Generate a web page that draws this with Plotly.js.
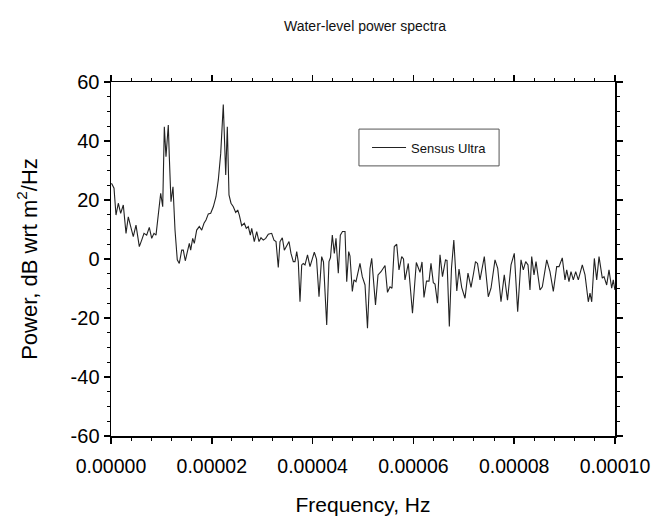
<!DOCTYPE html>
<html>
<head>
<meta charset="utf-8">
<script src="https://cdn.plot.ly/plotly-3.0.1.min.js"></script>
<style>html,body{margin:0;padding:0;background:#fff;}#chart{width:657px;height:521px;}</style>
</head>
<body>
<div id="chart"></div>
<script>
// Frequency in micro-Hz (converted to Hz below)
const freqMicroHz = [
0.10,0.60,0.99,1.45,1.92,2.44,2.98,3.43,3.91,4.42,4.96,5.62,6.09,6.55,7.08,7.60,8.08,8.53,8.93,9.38,
9.86,10.26,10.58,10.91,11.37,11.57,11.90,12.30,12.70,13.15,13.55,14.03,14.35,14.74,15.14,15.54,15.81,16.21,16.53,17.00,
17.52,18.00,18.45,18.85,19.31,19.78,20.30,20.83,21.29,21.77,22.28,22.76,23.08,23.41,23.81,24.27,24.74,25.14,25.46,25.93,
26.45,26.84,27.24,27.64,27.92,28.43,28.91,29.37,29.76,30.22,30.69,31.21,31.88,32.34,32.74,33.19,33.53,33.99,34.39,34.86,
35.32,35.71,36.17,36.51,36.85,37.16,37.50,37.84,38.15,38.49,38.99,39.48,40.34,40.78,41.27,41.80,42.16,42.80,43.25,43.55,
43.91,44.31,44.64,45.10,45.50,45.93,46.43,46.77,47.16,47.42,47.88,48.21,48.61,49.40,49.86,50.40,50.89,51.39,51.73,52.48,
52.98,53.57,54.37,54.86,55.36,55.75,56.21,56.69,57.14,57.68,58.04,58.33,58.99,59.82,60.58,61.31,61.71,62.10,62.60,63.10,
63.49,63.95,64.29,64.78,65.28,65.77,66.37,66.67,67.13,67.56,68.02,68.61,69.05,69.58,70.24,70.83,71.43,71.92,72.32,72.72,
73.21,74.07,74.86,75.40,76.19,76.73,77.38,78.03,78.67,79.37,80.02,80.69,81.35,81.81,82.28,82.74,83.13,83.47,83.93,84.33,
85.12,85.58,86.45,87.10,87.76,88.43,88.89,89.54,90.08,90.42,90.87,91.27,91.73,92.20,92.72,93.51,94.05,94.70,95.04,95.38,
95.90,96.37,96.83,97.48,97.82,98.35,98.81,99.34,99.66,99.98
];
const powerDb = [
25.7,24,14.9,18.9,15.5,18.3,8.7,14.3,11,7.6,11.5,4.2,6.4,8.7,8.1,10.7,7,8.7,8.1,14.3,
22.3,17.7,44.8,34.7,45.4,34.7,19.4,24.5,9.8,-0.3,-1.5,3,3,-0.6,2.5,5.3,3,7,5.3,9.8,
11,9.8,12.1,13.2,15.3,15.5,17.7,21.1,26.8,35.8,52.4,28.5,44.8,21.7,18.9,17.7,15.8,16.6,14.9,11.3,
12.1,10.4,11,8.1,10.4,5.9,9.3,5.9,7.2,6.4,7,8.4,8.7,6.4,5.9,-2.9,5.9,7.2,3,4.7,
5.9,1.9,-0.9,-0.9,2.5,-0.9,-14.5,-2,-1.5,-2,1.4,-2.6,2.3,0,-12.8,0.8,-1,-22.4,-0.9,0.5,
8.1,1.9,7,-4.8,8.1,9.3,9.3,-7.7,2.5,1,-11,-7.1,-7.7,-1.5,-6,-8.8,-23.5,-3.2,0.2,-15.6,
-5.4,-4.3,-2.2,-11.3,-9.4,-9.9,4.2,5,-3.7,0.8,0,-7.1,-1.5,-18.4,-1.2,-4.5,-1,-13,-7.5,-7.5,
-1.5,-8,-8.5,-15,1.4,-6,-0.3,-0.5,-22.9,-3,6.4,-10.8,-3.4,-9.6,-13.3,-4.8,-9.6,-5,-0.9,-1.5,
-7.1,0.8,-12.8,-9.9,-0.3,-3.2,-14.5,-5.4,-14,-2,1.9,-17.9,-0.3,-3.7,-0.9,-2,-10.5,0.8,-5.4,-0.9,
-10.5,-9.4,-0.3,-4.3,-11,-2.6,-2.6,0.4,-7.1,-3.7,-7.7,-4.3,-7.1,-4.3,-7.1,-2,-5.4,-14.5,-11.6,-14.5,
0.2,-7.1,0.8,-6.5,-6,-8.8,-3.7,-9.9,-7.1,-10.5
];
const xTickVals = [0, 0.00002, 0.00004, 0.00006, 0.00008, 0.0001];
const xTickLabels = ["0.00000","0.00002","0.00004","0.00006","0.00008","0.00010"];
const yTickVals = [-60,-40,-20,0,20,40,60];
const yTickLabels = ["-60","-40","-20","0","20","40","60"];
const seriesName = "Sensus Ultra";

const freqHz = freqMicroHz.map(v => v * 1e-6);
const FONT = "Arial, 'Liberation Sans', sans-serif";

const trace = {
  x: freqHz, y: powerDb, type: 'scatter', mode: 'lines', name: seriesName,
  line: {color: '#222', width: 1.1}
};

const layout = {
  width: 657, height: 521,
  margin: {l: 111, r: 42, t: 82, b: 85},
  paper_bgcolor: '#fff', plot_bgcolor: '#fff',
  font: {family: FONT, color: '#000'},
  title: {text: 'Water-level power spectra', font: {family: FONT, size: 14, color: '#111'},
          x: 0.5556, xanchor: 'center', y: 0.950, yanchor: 'middle'},
  showlegend: true,
  legend: {x: 0.508, y: 0.815, xanchor: 'left', yanchor: 'middle',
           borderwidth: 0, bgcolor: 'rgba(0,0,0,0)',
           font: {family: FONT, size: 13, color: '#111'}, itemwidth: 34},
  shapes: [{type: 'rect', xref: 'paper', yref: 'paper',
            x0: 0.492, x1: 0.770, y0: 0.763, y1: 0.867,
            line: {color: '#555', width: 1}, fillcolor: 'rgba(0,0,0,0)', layer: 'above'}],
  xaxis: {
    range: [0, 0.0001], tickvals: xTickVals, ticktext: xTickLabels,
    showline: true, linecolor: '#000', linewidth: 1.5, mirror: 'ticks',
    ticks: 'outside', ticklen: 6, tickwidth: 1.5, tickcolor: '#000',
    minor: {dtick: 0.000004, ticks: 'outside', ticklen: 3, tickwidth: 1, tickcolor: '#000'},
    showgrid: false, zeroline: false, ticklabelstandoff: 6,
    tickfont: {family: FONT, size: 19.5, color: '#000'},
    title: {text: 'Frequency, Hz', font: {family: FONT, size: 21, color: '#000'}, standoff: 21}
  },
  yaxis: {
    range: [-60, 60], tickvals: yTickVals, ticktext: yTickLabels,
    showline: true, linecolor: '#000', linewidth: 1.5, mirror: 'ticks',
    ticks: 'outside', ticklen: 6, tickwidth: 1.5, tickcolor: '#000',
    minor: {dtick: 5, ticks: 'outside', ticklen: 3, tickwidth: 1, tickcolor: '#000'},
    showgrid: false, zeroline: false,
    tickfont: {family: FONT, size: 20, color: '#000'},
    title: {text: 'Power, dB wrt m<sup>2</sup>/Hz', font: {family: FONT, size: 22, color: '#000'}, standoff: 27}
  }
};

Plotly.newPlot('chart', [trace], layout, {displayModeBar: false, staticPlot: true});
</script>
</body>
</html>
